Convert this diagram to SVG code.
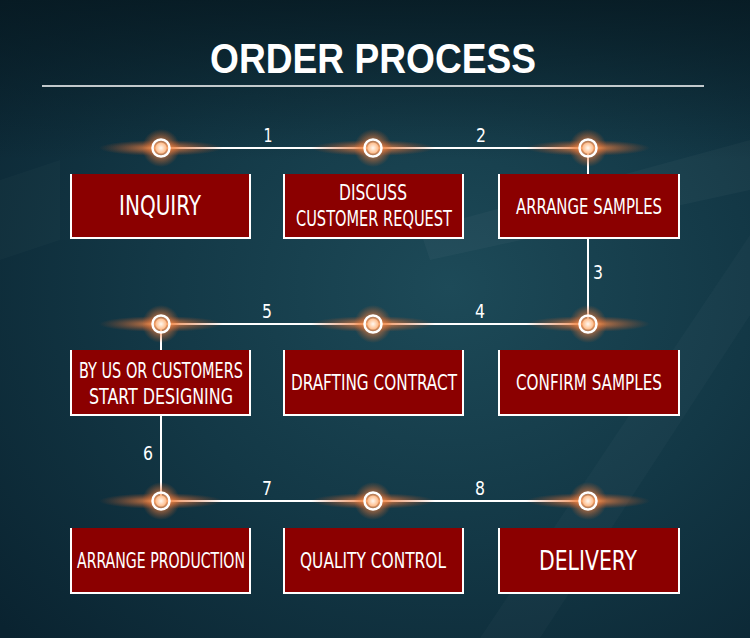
<svg xmlns="http://www.w3.org/2000/svg" width="750" height="638" viewBox="0 0 750 638">
<defs>
<radialGradient id="bg" cx="0.6" cy="0.45" r="0.8">
<stop offset="0" stop-color="#1d4a58"/>
<stop offset="0.5" stop-color="#133846"/>
<stop offset="1" stop-color="#0a2330"/>
</radialGradient>
<linearGradient id="topfade" x1="0" y1="0" x2="0" y2="1">
<stop offset="0" stop-color="#061820" stop-opacity="0.8"/>
<stop offset="1" stop-color="#061820" stop-opacity="0"/>
</linearGradient>
<radialGradient id="glowH" cx="0.5" cy="0.5" r="0.5">
<stop offset="0" stop-color="#ffc080" stop-opacity="1"/>
<stop offset="0.3" stop-color="#f08040" stop-opacity="0.65"/>
<stop offset="1" stop-color="#c05020" stop-opacity="0"/>
</radialGradient>
<radialGradient id="glowC" cx="0.5" cy="0.5" r="0.5">
<stop offset="0" stop-color="#ffd8b0" stop-opacity="1"/>
<stop offset="0.5" stop-color="#f08040" stop-opacity="0.55"/>
<stop offset="1" stop-color="#e06020" stop-opacity="0"/>
</radialGradient>
<radialGradient id="core" cx="0.5" cy="0.5" r="0.5">
<stop offset="0" stop-color="#fff8f0"/>
<stop offset="1" stop-color="#ffbb88"/>
</radialGradient>
<g id="dot">
<ellipse cx="0" cy="0" rx="62" ry="8" fill="url(#glowH)"/>
<circle cx="0" cy="0" r="19" fill="url(#glowC)"/>
<circle cx="0" cy="0" r="8.5" fill="none" stroke="#ffffff" stroke-width="2.5"/>
<circle cx="0" cy="0" r="5.5" fill="url(#core)"/>
</g>
</defs>
<style>
.box{fill:#8b0000;}
.edge{fill:none;stroke:#ffffff;stroke-width:2;}
.lbl{font-family:"DejaVu Sans Condensed","DejaVu Sans",sans-serif;font-stretch:condensed;fill:#ffffff;text-anchor:middle;font-size:21px;}
.big{font-size:27px;}
.num{font-family:"DejaVu Sans Condensed","DejaVu Sans",sans-serif;fill:#ffffff;text-anchor:middle;font-size:20px;}
.ln{stroke:#ffffff;stroke-width:2;fill:none;}
</style>
<rect width="750" height="638" fill="url(#bg)"/>
<polygon points="480,638 540,638 760,300 760,220" fill="#ffffff" opacity="0.025"/>
<polygon points="420,230 750,140 750,190 430,260" fill="#ffffff" opacity="0.03"/>
<polygon points="0,180 60,160 60,240 0,260" fill="#ffffff" opacity="0.02"/>
<rect width="750" height="160" fill="url(#topfade)"/>
<text x="373" y="73" font-family="Liberation Sans,Arial,sans-serif" font-weight="bold" font-size="42" fill="#ffffff" text-anchor="middle" textLength="326" lengthAdjust="spacingAndGlyphs">ORDER PROCESS</text>
<line x1="42" y1="86" x2="704" y2="86" stroke="#ffffff" stroke-width="1.3"/>
<g id="connectors">
<path class="ln" d="M161,148 H588 V324 H161 V501 H588"/>
</g>
<g id="numbers">
<text class="num" x="268" y="142" textLength="9" lengthAdjust="spacingAndGlyphs">1</text>
<text class="num" x="481" y="142" textLength="10" lengthAdjust="spacingAndGlyphs">2</text>
<text class="num" x="598" y="279" textLength="10" lengthAdjust="spacingAndGlyphs">3</text>
<text class="num" x="480" y="318" textLength="10" lengthAdjust="spacingAndGlyphs">4</text>
<text class="num" x="267" y="318" textLength="10" lengthAdjust="spacingAndGlyphs">5</text>
<text class="num" x="148" y="460" textLength="10" lengthAdjust="spacingAndGlyphs">6</text>
<text class="num" x="267" y="495" textLength="10" lengthAdjust="spacingAndGlyphs">7</text>
<text class="num" x="480" y="495" textLength="10" lengthAdjust="spacingAndGlyphs">8</text>
</g>
<g id="dots">
<use href="#dot" x="161" y="148"/>
<use href="#dot" x="373" y="148"/>
<use href="#dot" x="588" y="148"/>
<use href="#dot" x="161" y="324"/>
<use href="#dot" x="373" y="324"/>
<use href="#dot" x="588" y="324"/>
<use href="#dot" x="161" y="501"/>
<use href="#dot" x="373" y="501"/>
<use href="#dot" x="588" y="501"/>
</g>
<g id="n1">
<rect class="box" x="70" y="174" width="181" height="64"/>
<path class="edge" d="M71,174 V238 H250 V174"/>
<text class="lbl big" x="160" y="215" textLength="82" lengthAdjust="spacingAndGlyphs">INQUIRY</text>
</g>
<g id="n2">
<rect class="box" x="283" y="174" width="181" height="64"/>
<path class="edge" d="M284,174 V238 H463 V174"/>
<text class="lbl" x="373" y="200" textLength="68" lengthAdjust="spacingAndGlyphs">DISCUSS</text>
<text class="lbl" x="374" y="226" textLength="156" lengthAdjust="spacingAndGlyphs">CUSTOMER REQUEST</text>
</g>
<g id="n3">
<rect class="box" x="498" y="174" width="182" height="64"/>
<path class="edge" d="M499,174 V238 H679 V174"/>
<text class="lbl" x="589" y="214" textLength="146" lengthAdjust="spacingAndGlyphs">ARRANGE SAMPLES</text>
</g>
<g id="n4">
<rect class="box" x="498" y="350" width="182" height="65"/>
<path class="edge" d="M499,350 V415 H679 V350"/>
<text class="lbl" x="589" y="390" textLength="146" lengthAdjust="spacingAndGlyphs">CONFIRM SAMPLES</text>
</g>
<g id="n5">
<rect class="box" x="283" y="350" width="181" height="65"/>
<path class="edge" d="M284,350 V415 H463 V350"/>
<text class="lbl" x="374" y="390" textLength="166" lengthAdjust="spacingAndGlyphs">DRAFTING CONTRACT</text>
</g>
<g id="n6">
<rect class="box" x="70" y="350" width="181" height="65"/>
<path class="edge" d="M71,350 V415 H250 V350"/>
<text class="lbl" x="161" y="378" textLength="164" lengthAdjust="spacingAndGlyphs">BY US OR CUSTOMERS</text>
<text class="lbl" x="161" y="404" textLength="144" lengthAdjust="spacingAndGlyphs">START DESIGNING</text>
</g>
<g id="n7">
<rect class="box" x="70" y="528" width="181" height="65"/>
<path class="edge" d="M71,528 V593 H250 V528"/>
<text class="lbl" x="161" y="568" textLength="168" lengthAdjust="spacingAndGlyphs">ARRANGE PRODUCTION</text>
</g>
<g id="n8">
<rect class="box" x="283" y="528" width="181" height="65"/>
<path class="edge" d="M284,528 V593 H463 V528"/>
<text class="lbl" x="373" y="568" textLength="146" lengthAdjust="spacingAndGlyphs">QUALITY CONTROL</text>
</g>
<g id="n9">
<rect class="box" x="498" y="528" width="182" height="65"/>
<path class="edge" d="M499,528 V593 H679 V528"/>
<text class="lbl big" x="588" y="570" textLength="98" lengthAdjust="spacingAndGlyphs">DELIVERY</text>
</g>
</svg>
